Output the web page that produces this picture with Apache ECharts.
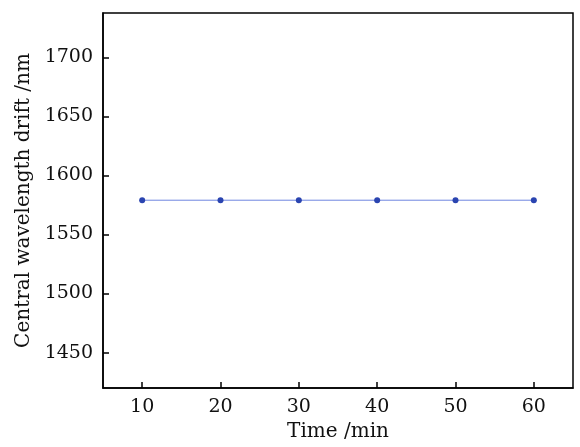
<!DOCTYPE html><html><head><meta charset="utf-8"><script src="https://cdn.jsdelivr.net/npm/echarts@6/dist/echarts.min.js"></script></head><body style="margin:0;background:#fff"><div id="c" style="width:580px;height:447px"></div><script>
const times=[10,20,30,40,50,60];
const drift=[1579,1579,1579,1579,1579,1579];
const yTicks=[1450,1500,1550,1600,1650,1700];
const xTicks=[10,20,30,40,50,60];
const f='"DejaVu Serif", "Liberation Serif", serif';
const ch=echarts.init(document.getElementById('c'));
ch.setOption({animation:false,
grid:{left:103,top:13,right:7,bottom:57,show:true,borderColor:'#000',borderWidth:1.5,backgroundColor:'transparent'},
xAxis:{type:'value',min:5,max:65,name:'Time /min',nameLocation:'middle',nameGap:34,nameTextStyle:{fontFamily:f,fontSize:20,color:'#111'},
axisLine:{lineStyle:{color:'#000',width:1.5}},splitLine:{show:false},
axisTick:{inside:true,length:6,customValues:xTicks,lineStyle:{color:'#000',width:1.5}},
axisLabel:{customValues:xTicks,formatter:v=>String(v),fontFamily:f,fontSize:19,color:'#111',margin:10}},
yAxis:{type:'value',min:1420,max:1737.5,name:'Central wavelength drift /nm',nameLocation:'middle',nameGap:66,nameTextStyle:{fontFamily:f,fontSize:20,color:'#111'},
axisLine:{lineStyle:{color:'#000',width:1.5}},splitLine:{show:false},
axisTick:{inside:true,length:6,customValues:yTicks,lineStyle:{color:'#000',width:1.5}},
axisLabel:{customValues:yTicks,formatter:v=>String(v),fontFamily:f,fontSize:19,color:'#111',margin:10}},
series:[{type:'line',data:times.map((t,i)=>[t,drift[i]]),symbol:'circle',symbolSize:6,
lineStyle:{color:'#6f86e0',width:1},itemStyle:{color:'#2a44b0'}}]});
</script></body></html>
